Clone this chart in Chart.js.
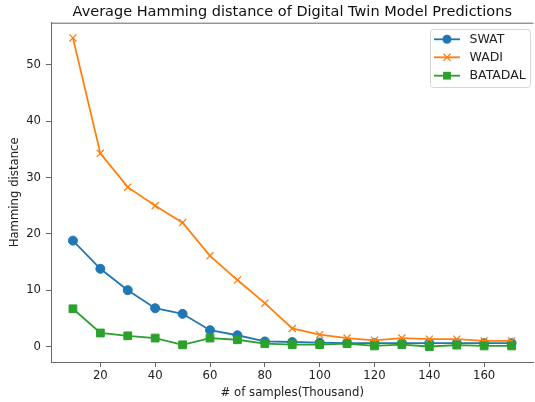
<!DOCTYPE html>
<html>
<head>
<meta charset="utf-8">
<script src="https://cdn.jsdelivr.net/npm/chart.js@4/dist/chart.umd.min.js"></script>
<style>
  html, body { margin: 0; padding: 0; overflow: hidden; background: #fff; }
  #wrap { width: 535px; height: 402px; overflow: hidden; }
</style>
</head>
<body>
<div id="wrap"><canvas id="myChart" width="540" height="402"></canvas></div>
<script>
// x values (thousand samples)
const samples = [10, 20, 30, 40, 50, 60, 70, 80, 90, 100, 110, 120, 130, 140, 150, 160, 170];

// hamming distance per dataset
const swat = [18.8, 13.8, 10.0, 6.8, 5.8, 2.9, 2.0, 0.9, 0.8, 0.7, 0.6, 0.6, 0.6, 0.6, 0.6, 0.6, 0.6];
const wadi = [54.8, 34.3, 28.3, 25.0, 22.0, 16.1, 11.8, 7.7, 3.2, 2.1, 1.5, 1.1, 1.5, 1.3, 1.3, 1.0, 1.0];
const batadal = [6.7, 2.4, 1.9, 1.5, 0.3, 1.5, 1.2, 0.5, 0.35, 0.35, 0.5, 0.1, 0.35, 0.0, 0.25, 0.1, 0.1];

const xTicks = [20, 40, 60, 80, 100, 120, 140, 160];
const yTicks = [0, 10, 20, 30, 40, 50];

const COLORS = {
  blue: '#1f77b4',
  orange: '#ff7f0e',
  green: '#2ca02c'
};

const FONT = 'DejaVu Sans';
const SPINE = '#666';

function toPoints(arr) {
  let pts = [];
  for (let i = 0; i < samples.length; i++) {
    pts.push({x: samples[i], y: arr[i]});
  }
  return pts;
}

// top spine, matplotlib style box
const frame = {
  id: 'frame',
  afterDraw(chart) {
    const a = chart.chartArea;
    const ctx = chart.ctx;
    ctx.save();
    ctx.strokeStyle = SPINE;
    ctx.lineWidth = 1;
    ctx.beginPath();
    ctx.moveTo(a.left, a.top + 0.5);
    ctx.lineTo(a.right, a.top + 0.5);
    ctx.stroke();
    ctx.restore();
  }
};

// legend box in upper right, line + marker handles
const boxLegend = {
  id: 'boxLegend',
  afterDraw(chart) {
    const ctx = chart.ctx;
    const left = 430.5, top = 29.5, w = 100, h = 58;
    ctx.save();
    ctx.fillStyle = 'rgba(255,255,255,0.85)';
    ctx.strokeStyle = '#d6d6d6';
    ctx.lineWidth = 1;
    ctx.beginPath();
    ctx.roundRect(left, top, w, h, 3);
    ctx.fill();
    ctx.stroke();

    const rows = [39.3, 57.3, 75.7];
    chart.data.datasets.forEach(function (ds, i) {
      let y = rows[i];
      ctx.strokeStyle = ds.borderColor;
      ctx.lineWidth = ds.borderWidth;
      ctx.beginPath();
      ctx.moveTo(434, y);
      ctx.lineTo(460, y);
      ctx.stroke();
      ctx.fillStyle = ds.borderColor;
      ctx.lineWidth = ds.pointBorderWidth;
      ctx.beginPath();
      if (ds.pointStyle == 'circle') {
        ctx.arc(447, y, ds.pointRadius, 0, Math.PI * 2);
        ctx.fill();
      } else if (ds.pointStyle == 'rect') {
        let s = ds.pointRadius * Math.SQRT1_2;
        ctx.rect(447 - s, y - s, 2 * s, 2 * s);
        ctx.fill();
      } else {
        let s = ds.pointRadius * Math.SQRT1_2;
        ctx.moveTo(447 - s, y - s); ctx.lineTo(447 + s, y + s);
        ctx.moveTo(447 - s, y + s); ctx.lineTo(447 + s, y - s);
        ctx.stroke();
      }
      ctx.fillStyle = '#222';
      ctx.font = '12.5px "' + FONT + '"';
      ctx.textBaseline = 'middle';
      ctx.textAlign = 'left';
      ctx.fillText(ds.label, 469.5, y);
    });
    ctx.restore();
  }
};

const data = {
  datasets: [
    {
      label: 'SWAT',
      data: toPoints(swat),
      borderColor: COLORS.blue,
      backgroundColor: COLORS.blue,
      borderWidth: 1.8,
      pointStyle: 'circle',
      pointRadius: 4.5,
      pointBorderWidth: 1,
      order: 3
    },
    {
      label: 'WADI',
      data: toPoints(wadi),
      borderColor: COLORS.orange,
      backgroundColor: COLORS.orange,
      borderWidth: 1.8,
      pointStyle: 'crossRot',
      pointRadius: 5,
      pointBorderWidth: 1.3,
      order: 2
    },
    {
      label: 'BATADAL',
      data: toPoints(batadal),
      borderColor: COLORS.green,
      backgroundColor: COLORS.green,
      borderWidth: 1.8,
      pointStyle: 'rect',
      pointRadius: 5.5,
      pointBorderWidth: 1,
      order: 1
    }
  ]
};

const config = {
  type: 'line',
  data: data,
  options: {
    responsive: false,
    animation: false,
    devicePixelRatio: 1,
    layout: {
      padding: {left: 0, right: 2, top: 0, bottom: 0}
    },
    plugins: {
      legend: {display: false},
      tooltip: {enabled: false},
      title: {
        display: true,
        fullSize: false,
        text: 'Average Hamming distance of Digital Twin Model Predictions',
        color: '#111',
        font: {family: FONT, size: 14.5, weight: 'normal', lineHeight: 1.2},
        padding: {top: 4, bottom: 1.3}
      }
    },
    scales: {
      x: {
        type: 'linear',
        min: 2,
        max: 178,
        afterBuildTicks(scale) {
          scale.ticks = xTicks.map(v => ({value: v}));
        },
        afterFit(scale) {
          scale.height = 40;
        },
        grid: {drawOnChartArea: false, drawTicks: true, tickLength: 5, color: SPINE},
        border: {display: true, color: SPINE, width: 1},
        ticks: {
          color: '#222',
          font: {family: FONT, size: 11.7},
          padding: 2,
          maxRotation: 0
        },
        title: {
          display: true,
          text: '# of samples(Thousand)',
          color: '#222',
          font: {family: FONT, size: 11.7, lineHeight: 1.2},
          padding: {top: 0, bottom: 2.5}
        }
      },
      y: {
        type: 'linear',
        min: -2.75,
        max: 57.5,
        afterBuildTicks(scale) {
          scale.ticks = yTicks.map(v => ({value: v}));
        },
        afterFit(scale) {
          scale.width = 51;
        },
        grid: {drawOnChartArea: false, drawTicks: true, tickLength: 5, color: SPINE},
        border: {display: true, color: SPINE, width: 1},
        ticks: {
          color: '#222',
          font: {family: FONT, size: 11.7},
          padding: 5
        },
        title: {
          display: true,
          text: 'Hamming distance',
          color: '#222',
          font: {family: FONT, size: 11.7, lineHeight: 1.2},
          padding: {top: 7.5, bottom: 0}
        }
      }
    }
  },
  plugins: [frame, boxLegend]
};

const myChart = new Chart(document.getElementById('myChart'), config);
</script>
</body>
</html>
